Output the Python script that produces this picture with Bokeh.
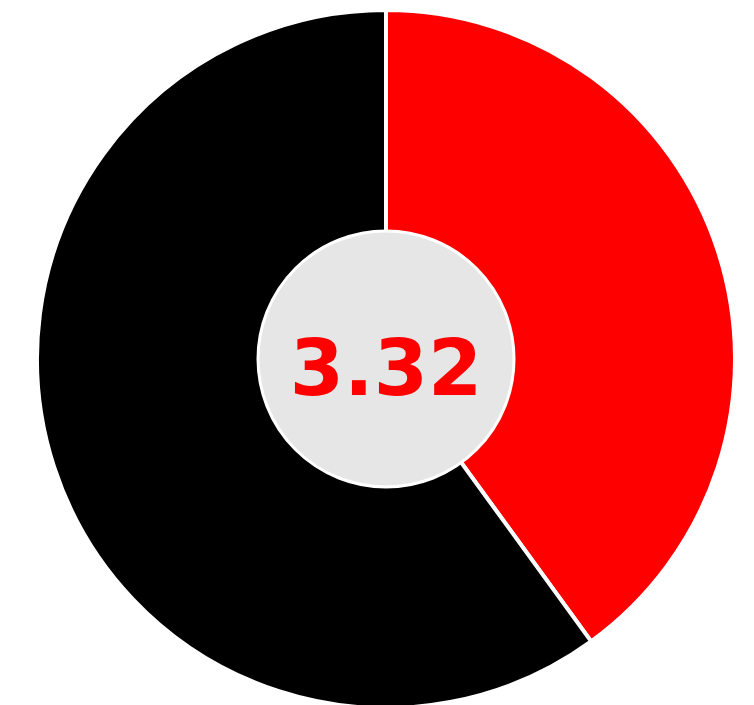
import math
from bokeh.plotting import figure
from bokeh.models import Range1d, ColumnDataSource
from bokeh.core.properties import value
from bokeh.embed import file_html
from bokeh.resources import INLINE

# data
labels = ["Red", "Black"]
shares = [40, 60]
colors = ["#ff0000", "#000000"]
center_label = "3.32"

W, H = 754, 705
cx, cy = 385.5, H - 358.5

total = sum(shares)
starts, ends = [], []
a = math.pi / 2
for s in shares:
    starts.append(a)
    a = a - 2 * math.pi * s / total
    ends.append(a)

src = ColumnDataSource(dict(label=labels, share=shares, color=colors,
                            start=starts, end=ends,
                            x=[cx] * len(labels), y=[cy] * len(labels)))

p = figure(width=W, height=H, output_backend="svg", toolbar_location=None,
           x_range=Range1d(0, W), y_range=Range1d(0, H), min_border=0)
p.axis.visible = False
p.grid.visible = False
p.outline_line_color = None
p.background_fill_color = "white"
p.border_fill_color = "white"

p.wedge(x="x", y="y", radius=349, start_angle="start", end_angle="end",
        direction="clock", fill_color="color", line_color="white",
        line_width=4, source=src)

p.circle(x=[cx], y=[cy], radius=128, fill_color="#e6e6e6",
         line_color="white", line_width=3)

p.text(x=[cx], y=[cy - 7], text=[center_label], text_align="center",
       text_baseline="middle", text_color="#ff0000",
       text_font=value("DejaVu Sans"), text_font_style="bold",
       text_font_size="78px")

open("out.html", "w").write(file_html(p, INLINE))
